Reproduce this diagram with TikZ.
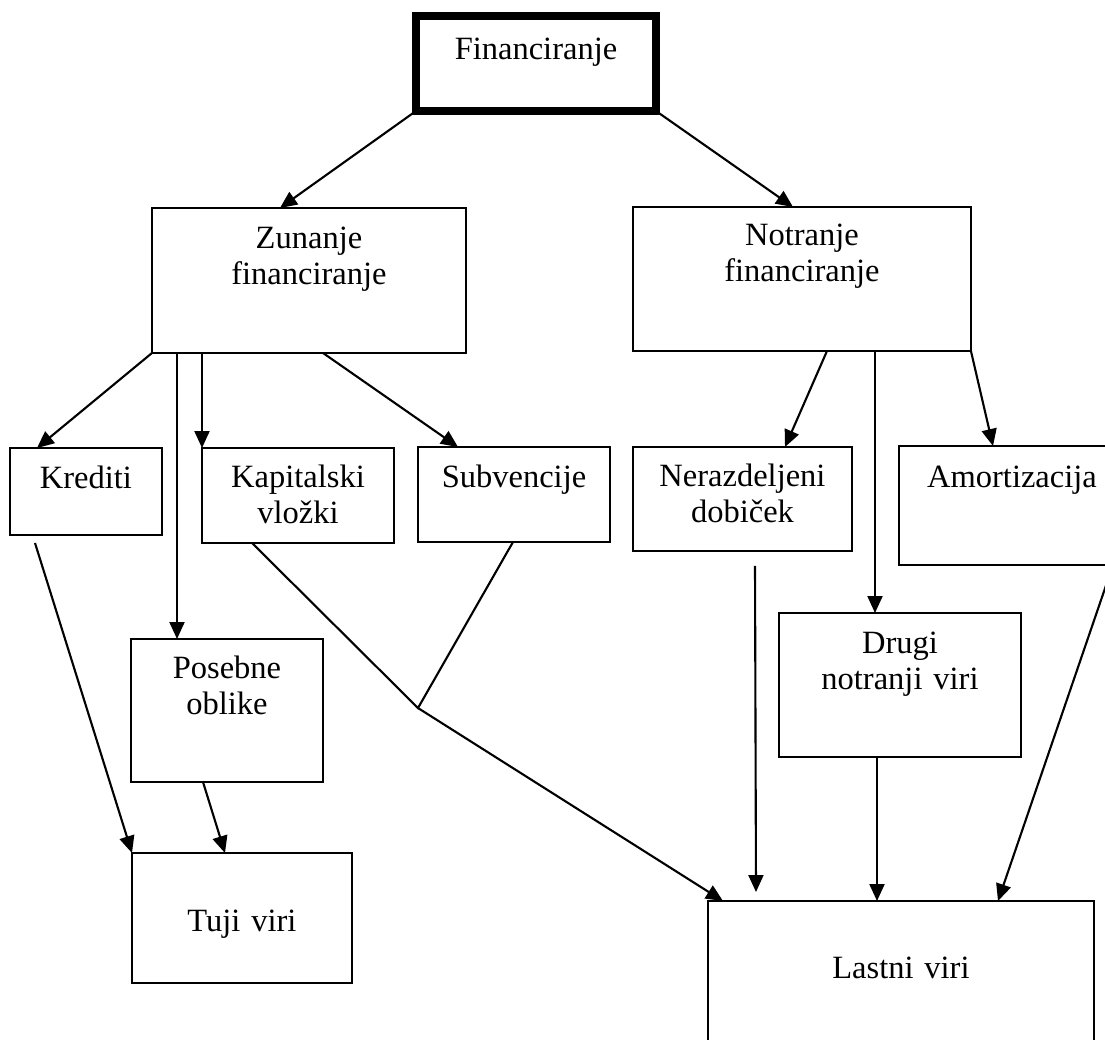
\documentclass[tikz,border=0pt]{standalone}
\usepackage{fontspec}
\setmainfont{Liberation Serif}
\usetikzlibrary{arrows.meta,calc}

\begin{document}
\begin{tikzpicture}[x=0.02cm,y=-0.02cm]
\tikzstyle{every node}+=[inner sep=0pt,outer sep=0pt]
\tikzstyle{box}=[draw,line width=1.2pt,anchor=north west,align=center,font=\fontsize{18.5}{20.5}\selectfont]
\tikzstyle{arr}=[line width=1.2pt,-{Triangle[length=0.34cm,width=0.3cm]}]
\tikzset{boxdim/.style n args={3}{text width=#1cm,text height=#2cm,text depth=#3cm}}
\useasboundingbox (0,0) rectangle (1105,1039);
\clip (0,0) rectangle (1105,1039);
\node[box,line width=4.5pt,boxdim={4.8}{0.88}{1.02}] (fin) at (416,16) {Financiranje};
\node[box,boxdim={6.28}{0.8}{2.1}] (zun) at (152,208) {Zunanje\\financiranje};
\node[box,boxdim={6.76}{0.76}{2.12}] (notr) at (633,207) {Notranje\\financiranje};
\node[box,boxdim={3.04}{0.8}{0.94}] (kred) at (10,448) {Krediti};
\node[box,boxdim={3.84}{0.78}{1.12}] (kap) at (202,448) {Kapitalski\\vložki};
\node[box,boxdim={3.84}{0.8}{1.1}] (subv) at (418,447) {Subvencije};
\node[box,boxdim={4.38}{0.78}{1.3}] (nerazd) at (633,447) {Nerazdeljeni\\dobiček};
\node[box,boxdim={4.52}{0.82}{1.56}] (amort) at (899,446) {Amortizacija};
\node[box,boxdim={3.84}{0.78}{2.08}] (poseb) at (131,639) {Posebne\\oblike};
\node[box,boxdim={4.84}{0.8}{2.08}] (drugi) at (779,613) {Drugi\\notranji viri};
\node[box,boxdim={4.4}{1.56}{1.04}] (tuji) at (132,853) {Tuji viri};
\node[box,boxdim={7.72}{1.54}{2.46}] (lastni) at (708,901) {Lastni viri};
\coordinate (merge) at (418,708);
\draw[arr] (fin.south west) -- ($(zun.north west)+(128,0)$);
\draw[arr] (fin.south east) -- ($(notr.north west)+(160,0)$);
\draw[arr] (zun.south west) -- ($(kred.north west)+(27,0)$);
\draw[arr] ($(zun.south west)+(25,0)$) -- ($(poseb.north west)+(46,0)$);
\draw[arr] ($(zun.south west)+(50,0)$) -- (kap.north west);
\draw[arr] ($(zun.south west)+(171,0)$) -- ($(subv.north west)+(40,0)$);
\draw[arr] ($(notr.south west)+(194,0)$) -- ($(nerazd.north west)+(152,0)$);
\draw[arr] ($(notr.south west)+(242,0)$) -- ($(drugi.north west)+(96,0)$);
\draw[arr] (notr.south east) -- ($(amort.north west)+(94,0)$);
\draw[arr] ($(kred.south west)+(25,8)$) -- (tuji.north west);
\draw[arr] ($(poseb.south west)+(72,0)$) -- ($(tuji.north west)+(93,0)$);
\draw[line width=1.2pt] ($(kap.south west)+(50,0)$) -- (merge) -- ($(subv.south west)+(95,0)$);
\draw[arr] (merge) -- ($(lastni.north west)+(15,0)$);
\draw[arr] ($(nerazd.south west)+(122,15)$) -- ($(lastni.north west)+(48,-9)$);
\draw[arr] ($(drugi.south west)+(98,0)$) -- ($(lastni.north west)+(169,0)$);
\draw[arr] ($(amort.south west)+(214,0)$) -- ($(lastni.north west)+(290,0)$);
\end{tikzpicture}
\end{document}
